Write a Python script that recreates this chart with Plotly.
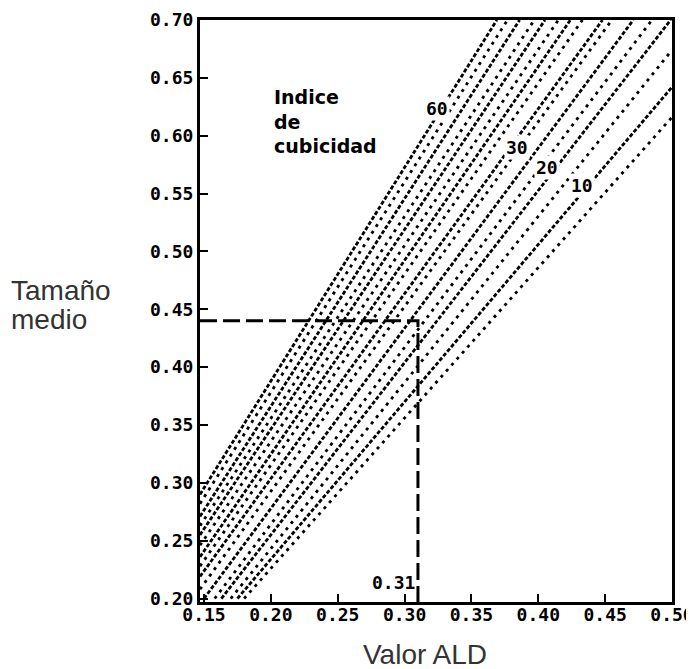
import plotly.graph_objects as go

# lineas de indice de cubicidad (de izquierda a derecha)
# inicio: sobre el borde izquierdo / inferior, fin: sobre el borde superior / derecho
start_x = [0.147, 0.147, 0.147, 0.147, 0.147, 0.147, 0.147, 0.147, 0.147, 0.147,
           0.150, 0.158, 0.163, 0.170, 0.175, 0.180]
start_y = [0.290, 0.282, 0.271, 0.263, 0.255, 0.246, 0.236, 0.228, 0.219, 0.208,
           0.200, 0.200, 0.200, 0.200, 0.200, 0.200]
end_x = [0.369, 0.377, 0.386, 0.397, 0.405, 0.415, 0.424, 0.433, 0.448, 0.455,
         0.471, 0.485, 0.499, 0.500, 0.500, 0.500]
end_y = [0.700, 0.700, 0.700, 0.700, 0.700, 0.700, 0.700, 0.700, 0.700, 0.700,
         0.700, 0.700, 0.700, 0.674, 0.642, 0.616]

# etiquetas de las curvas
label_text = ['60', '30', '20', '10']
label_x = [0.3243, 0.3841, 0.4065, 0.4327]
label_y = [0.6239, 0.5894, 0.5729, 0.5574]

# ejemplo de lectura
ald_value = 0.31
mean_size = 0.44

x_ticks = [0.15, 0.20, 0.25, 0.30, 0.35, 0.40, 0.45, 0.50]
y_ticks = [0.20, 0.25, 0.30, 0.35, 0.40, 0.45, 0.50, 0.55, 0.60, 0.65, 0.70]

x_min = 0.147
y_min = 0.197

tick_font = dict(family='DejaVu Sans Mono', size=18, color='black', weight='bold')
title_font = dict(family='Liberation Sans', size=28, color='#333333')

fig = go.Figure()

for i in range(len(start_x)):
    # alternan lineas densas y punteadas mas ralas
    if i % 2 == 0:
        dash = '4px,2px'
    else:
        dash = '3px,5px'
    fig.add_trace(go.Scatter(x=[start_x[i], end_x[i]], y=[start_y[i], end_y[i]],
                             mode='lines', line=dict(color='black', width=2.8, dash=dash),
                             hoverinfo='skip', showlegend=False))

# lineas de trazos de la lectura
fig.add_trace(go.Scatter(x=[x_min, ald_value, ald_value], y=[mean_size, mean_size, y_min],
                         mode='lines', line=dict(color='black', width=3, dash='17px,6px'),
                         hoverinfo='skip', showlegend=False))

for t, x, y in zip(label_text, label_x, label_y):
    fig.add_annotation(x=x, y=y, text=t, showarrow=False, bgcolor='white',
                       font=dict(family='DejaVu Sans Mono', size=18, color='black', weight='bold'))

fig.add_annotation(x=0.309, y=0.214, text='0.31', showarrow=False, xanchor='right',
                   font=tick_font)

fig.add_annotation(x=0.201, y=0.645, text='Indice<br>de<br>cubicidad', showarrow=False,
                   xanchor='left', yanchor='top', align='left',
                   font=dict(family='DejaVu Sans', size=19, color='black', weight='bold'))

# titulos de ejes
fig.add_annotation(xref='paper', yref='paper', x=-0.405, y=0.536, text='Tamaño',
                   showarrow=False, xanchor='left', yanchor='middle', font=title_font)
fig.add_annotation(xref='paper', yref='paper', x=-0.405, y=0.485, text='medio',
                   showarrow=False, xanchor='left', yanchor='middle', font=title_font)
fig.add_annotation(xref='paper', yref='paper', x=0.477, y=-0.091, text='Valor ALD',
                   showarrow=False, yanchor='middle', font=title_font)

fig.update_xaxes(range=[x_min, 0.50], tickvals=x_ticks, ticktext=['%.2f' % v for v in x_ticks],
                 showline=True, linewidth=3, linecolor='black', mirror=True,
                 ticks='inside', ticklen=8, tickwidth=2, tickcolor='black',
                 showgrid=False, zeroline=False, tickfont=tick_font, automargin=False,
                 ticklabelstandoff=-6)
fig.update_yaxes(range=[y_min, 0.70], tickvals=y_ticks, ticktext=['%.2f' % v for v in y_ticks],
                 showline=True, linewidth=3, linecolor='black', mirror=True,
                 ticks='inside', ticklen=8, tickwidth=2, tickcolor='black',
                 showgrid=False, zeroline=False, tickfont=tick_font, automargin=False)

# la pagina html deja 8px de margen, por eso 686x661
fig.update_layout(width=686, height=661, margin=dict(l=192, r=22, t=12, b=67),
                  plot_bgcolor='white', paper_bgcolor='white')

fig.write_html("out.html")
